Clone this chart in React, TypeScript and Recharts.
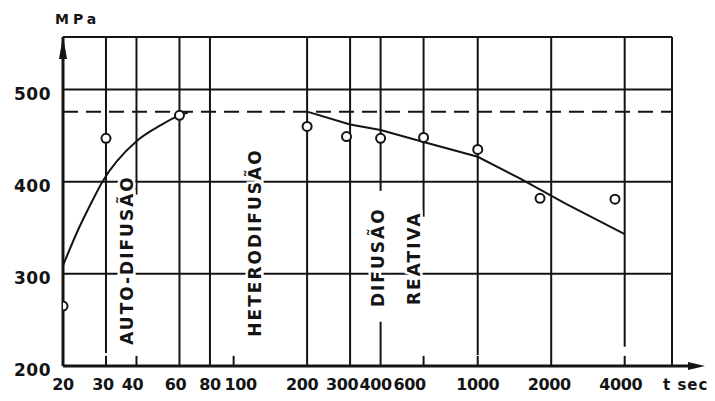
import React from "react";
import {
  ComposedChart,
  Line,
  Scatter,
  XAxis,
  YAxis,
  ReferenceLine,
  ReferenceDot,
} from "recharts";

// tick labels
const xTicks = [20, 30, 40, 60, 80, 100, 200, 300, 400, 600, 1000, 2000, 4000];
const yTicks = [200, 300, 400, 500];

// measured stress (MPa) vs time (s)
const measured = [
  { t: 20, s: 265 },
  { t: 30, s: 447 },
  { t: 60, s: 472 },
  { t: 200, s: 460 },
  { t: 290, s: 449 },
  { t: 400, s: 447 },
  { t: 600, s: 448 },
  { t: 1000, s: 435 },
  { t: 1800, s: 382 },
  { t: 3650, s: 381 },
];

// fitted curves
const riseCurve = [
  { t: 20, s: 309 },
  { t: 23, s: 347 },
  { t: 26, s: 376 },
  { t: 29, s: 400 },
  { t: 40, s: 444 },
  { t: 50, s: 461 },
  { t: 60, s: 472 },
  { t: 65, s: 475 },
];
const fallCurve = [
  { t: 200, s: 476 },
  { t: 300, s: 462 },
  { t: 400, s: 456 },
  { t: 600, s: 443 },
  { t: 1000, s: 427 },
  { t: 1500, s: 403 },
  { t: 2300, s: 376 },
  { t: 4000, s: 343 },
];
const plateau = [
  { t: 20, s: 476 },
  { t: 6250, s: 476 },
];

// stage names written along the chart
const stages = [
  { name: "AUTO-DIFUSÃO", t: 36.6, s: 315 },
  { name: "HETERODIFUSÃO", t: 122, s: 334 },
  { name: "DIFUSÃO", t: 392, s: 318 },
  { name: "REATIVA", t: 546, s: 317 },
];

const T_MIN = 20;
const T_MAX = 6250;
const S_MIN = 200;
const S_MAX = 557;

// drawn grid: vertical rules are broken in places on the original
const vRules = [
  { t: 30, lo: 214, hi: S_MAX },
  { t: 40, lo: 386, hi: S_MAX },
  { t: 60, lo: S_MIN, hi: S_MAX },
  { t: 80, lo: S_MIN, hi: S_MAX },
  { t: 200, lo: S_MIN, hi: S_MAX },
  { t: 300, lo: S_MIN, hi: S_MAX },
  { t: 400, lo: 390, hi: S_MAX },
  { t: 400, lo: S_MIN, hi: 248 },
  { t: 600, lo: 362, hi: S_MAX },
  { t: 1000, lo: 212, hi: S_MAX },
  { t: 2000, lo: S_MIN, hi: S_MAX },
  { t: 4000, lo: 221, hi: S_MAX },
  { t: T_MAX, lo: S_MIN, hi: S_MAX },
];
const hRules = [300, 400, 500, S_MAX];
const stubs = [30, 40, 100, 600, 1000, 4000];

// hand lettering sits a little off the rules on the original
const tickNudge: Record<number, number> = {
  30: -3, 40: -4, 60: -4, 100: 7, 200: -5, 300: -8, 400: -5, 600: -14, 2000: -2, 4000: -4,
};

const INK = "#141414";
const FONT = "'DejaVu Sans', sans-serif";

const XTick = (props: any) => {
  const { x, y, payload } = props;
  return (
    <text x={x + (tickNudge[payload.value] || 0)} y={y} dy={16} textAnchor="middle"
      fontFamily={FONT} fontWeight="bold" fontSize={16} letterSpacing={-0.4} fill={INK}>
      {payload.value}
    </text>
  );
};

const YTick = (props: any) => {
  const { x, y, payload } = props;
  return (
    <text x={x} y={y} dy={10} textAnchor="end" fontFamily={FONT}
      fontWeight="bold" fontSize={17} letterSpacing={0.5} fill={INK}>
      {payload.value}
    </text>
  );
};

const stageLabel = (name: string) => (p: any) => (
  <text
    x={p.cx}
    y={p.cy}
    transform={`rotate(-90 ${p.cx} ${p.cy})`}
    textAnchor="middle"
    dominantBaseline="central"
    fontFamily={FONT}
    fontWeight="bold"
    fontSize={17}
    letterSpacing={2}
    fill={INK}
    stroke="#fff"
    strokeWidth={5}
    paintOrder="stroke"
  >
    {name}
  </text>
);

const yArrow = (p: any) => (
  <g>
    <path d={`M${p.cx},${p.cy - 1} L${p.cx - 4},${p.cy + 22} L${p.cx + 4},${p.cy + 22} Z`} fill={INK} />
    <text x={p.cx - 8} y={p.cy - 13} fontFamily={FONT} fontWeight="bold"
      fontSize={14} letterSpacing={4} fill={INK}>
      MPa
    </text>
  </g>
);

const xArrow = (p: any) => (
  <g>
    <line x1={p.cx} y1={p.cy} x2={p.cx + 22} y2={p.cy} stroke={INK} strokeWidth={3} />
    <path d={`M${p.cx + 33},${p.cy} L${p.cx + 16},${p.cy - 4} L${p.cx + 16},${p.cy + 4} Z`} fill={INK} />
    <text x={p.cx - 9} y={p.cy + 24} fontFamily={FONT} fontWeight="bold"
      fontSize={15} letterSpacing={1} fill={INK}>
      t sec
    </text>
  </g>
);

const Circle = (p: any) => (
  <circle cx={p.cx} cy={p.cy} r={4.5} fill="#fff" stroke={INK} strokeWidth={2} />
);

export default function App() {
  return (
    <div style={{ position: "absolute", left: 0, top: 0, background: "#fff" }}>
      <ComposedChart
        width={715}
        height={401}
        margin={{ top: 37, right: 43, bottom: 0, left: 0 }}
      >
        <XAxis
          dataKey="t"
          type="number"
          scale="log"
          domain={[T_MIN, T_MAX]}
          ticks={xTicks}
          allowDataOverflow
          height={35}
          axisLine={{ stroke: INK, strokeWidth: 3 }}
          tickLine={false}
          tick={<XTick />}
          interval={0}
        />
        <YAxis
          type="number"
          domain={[S_MIN, S_MAX]}
          ticks={yTicks}
          allowDataOverflow
          width={63}
          axisLine={{ stroke: INK, strokeWidth: 3 }}
          tickLine={false}
          tickMargin={6}
          tick={<YTick />}
          interval={0}
        />
        {hRules.map((v) => (
          <ReferenceLine key={`h${v}`} y={v} stroke={INK} strokeWidth={2} />
        ))}
        {vRules.map((r, i) => (
          <ReferenceLine
            key={`v${i}`}
            segment={[{ x: r.t, y: r.lo }, { x: r.t, y: r.hi }]}
            stroke={INK}
            strokeWidth={2}
          />
        ))}
        {stubs.map((t) => (
          <ReferenceLine
            key={`s${t}`}
            segment={[{ x: t, y: S_MIN }, { x: t, y: 211 }]}
            stroke={INK}
            strokeWidth={2}
          />
        ))}
        <Line
          data={plateau}
          dataKey="s"
          type="linear"
          stroke={INK}
          strokeWidth={2}
          strokeDasharray="15 8"
          dot={false}
          isAnimationActive={false}
        />
        <Line
          data={riseCurve}
          dataKey="s"
          type="monotone"
          stroke={INK}
          strokeWidth={2}
          dot={false}
          isAnimationActive={false}
        />
        <Line
          data={fallCurve}
          dataKey="s"
          type="linear"
          stroke={INK}
          strokeWidth={2}
          dot={false}
          isAnimationActive={false}
        />
        {stages.map((st) => (
          <ReferenceDot key={st.name} x={st.t} y={st.s} r={0} shape={stageLabel(st.name)} />
        ))}
        <Scatter data={measured} dataKey="s" shape={Circle} isAnimationActive={false} />
        <ReferenceDot x={T_MIN} y={S_MAX} r={0} shape={yArrow} />
        <ReferenceDot x={T_MAX} y={S_MIN} r={0} shape={xArrow} />
      </ComposedChart>
    </div>
  );
}
